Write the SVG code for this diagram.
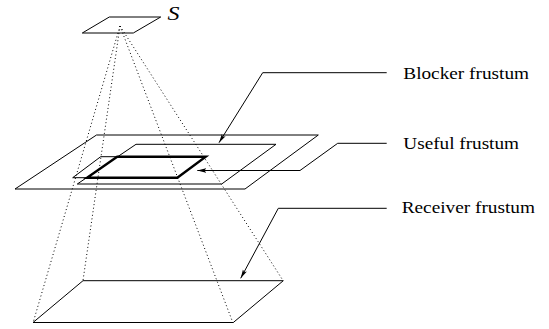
<svg xmlns="http://www.w3.org/2000/svg" width="549" height="329" viewBox="0 0 549 329">
<style>
.plane{fill:none;stroke:#000;stroke-width:1;stroke-linejoin:miter}
.thick{fill:none;stroke:#000;stroke-width:2.4;stroke-linejoin:miter}
.ray{fill:none;stroke:#000;stroke-width:1;stroke-dasharray:1 2.6}
.lead{fill:none;stroke:#000;stroke-width:1}
.lbl{font-family:"Liberation Serif","Times New Roman",serif;font-size:16px;fill:#000}
</style>
<defs>
<marker id="ah" markerWidth="10" markerHeight="6" refX="9" refY="3" orient="auto" markerUnits="userSpaceOnUse">
<path d="M0,0.8 L9,3 L0,5.2 L2,3 Z" fill="#000"/>
</marker>
</defs>
<rect width="549" height="329" fill="#fff"/>
<g id="rays">
<line class="ray" x1="120" y1="26" x2="33" y2="323"/>
<line class="ray" x1="120" y1="26" x2="83" y2="280.5"/>
<line class="ray" x1="120" y1="26" x2="233" y2="323"/>
<line class="ray" x1="120" y1="26" x2="283" y2="280.5"/>
</g>
<g id="source">
<polygon class="plane" points="109.3,17 160.7,17 133.3,33 82.3,33"/>
<text class="lbl" x="167.5" y="20" font-style="italic" style="font-size:19.5px" textLength="12" lengthAdjust="spacingAndGlyphs">S</text>
</g>
<g id="blocker-plane">
<polygon class="plane" points="96.5,135 318.3,135 245,189 15,189"/>
</g>
<g id="useful-plane">
<polygon class="plane" points="136,144.3 276,144.3 221.7,184 77.3,184"/>
</g>
<g id="inner-plane">
<polygon class="plane" points="100.7,156.7 205.7,156.7 177.3,177.7 72.7,177.7"/>
<polygon class="thick" points="117.2,156.7 205.7,156.7 177.3,177.7 87,177.7"/>
</g>
<g id="receiver-plane">
<polygon class="plane" points="83,280.7 283.3,280.7 233.3,322.5 33,322.5"/>
</g>
<g id="connectors">
<polyline class="lead" points="386.7,72.7 262.7,72.7 219,142.7" marker-end="url(#ah)"/>
<polyline class="lead" points="386.7,143.3 337.7,143.3 300,170.5 197.3,170.5" marker-end="url(#ah)"/>
<polyline class="lead" points="386.7,208.3 278.3,208.3 240.7,278.3" marker-end="url(#ah)"/>
</g>
<g id="label-blocker">
<text class="lbl" x="403.3" y="79" textLength="125.7" lengthAdjust="spacingAndGlyphs">Blocker frustum</text>
</g>
<g id="label-useful">
<text class="lbl" x="403.3" y="149.3" textLength="115.7" lengthAdjust="spacingAndGlyphs">Useful frustum</text>
</g>
<g id="label-receiver">
<text class="lbl" x="401.7" y="213.3" textLength="133.3" lengthAdjust="spacingAndGlyphs">Receiver frustum</text>
</g>
</svg>
